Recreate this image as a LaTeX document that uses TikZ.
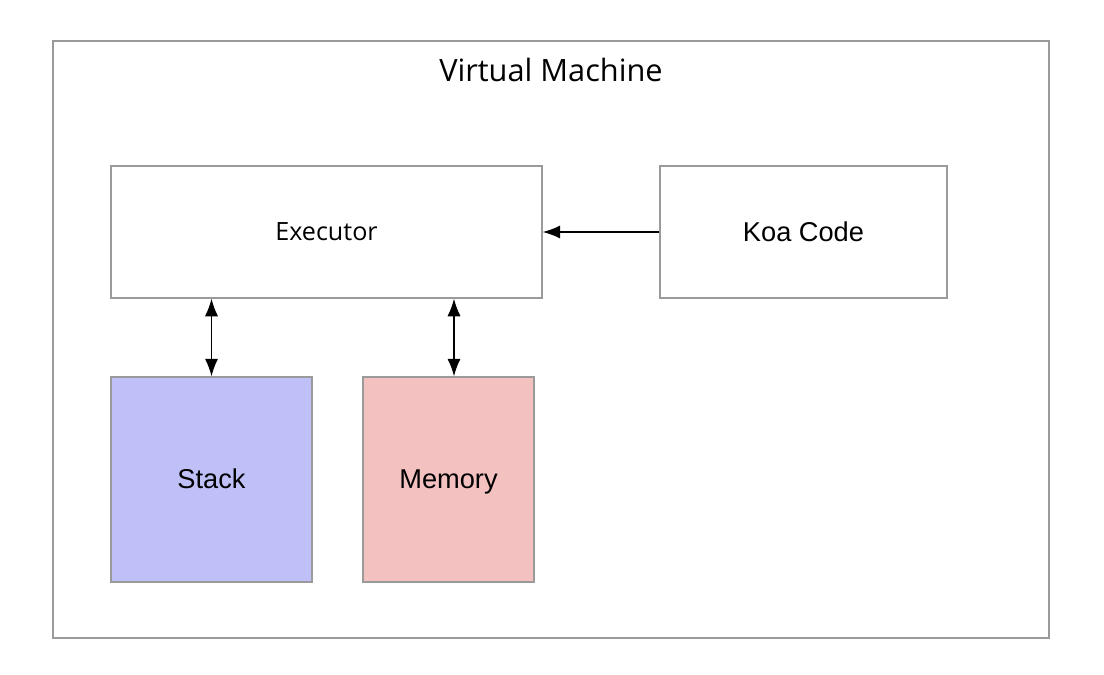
\documentclass[tikz,border=0pt]{standalone}
\usepackage{fontspec}
\setmainfont{Liberation Sans}
\newfontfamily\titlefont{Open Sans}
\usepackage{xcolor}
\usetikzlibrary{arrows.meta}

\definecolor{boxgray}{HTML}{9A9A9A}
\definecolor{stackblue}{HTML}{BFC0F8}
\definecolor{memred}{HTML}{F4C1C1}

\begin{document}
\begin{tikzpicture}[
    x=0.02cm, y=0.02cm,
    block/.style={rectangle, draw=boxgray, line width=0.8pt, inner sep=0pt},
    label/.style={font=\fontsize{15.5}{18}\selectfont, text height=10.5pt, text depth=0pt},
    arrow/.style={-{Latex[length=10pt,width=7.5pt]}, line width=0.8pt},
    biarrow/.style={{Latex[length=10pt,width=7.5pt]}-{Latex[length=10pt,width=7.5pt]}, line width=0.8pt}
]
\useasboundingbox (0,0) rectangle (1104,674);

% Outer frame
\node[block, minimum width=19.92cm, minimum height=11.94cm] (vm) at (551,334.5) {};
\node[font=\titlefont\fontsize{17.5}{20}\selectfont] (title) at (551,604) {Virtual Machine};

% Blocks
\node[block, minimum width=8.62cm, minimum height=2.64cm,
      font=\titlefont\fontsize{14.3}{17}\selectfont] (executor) at (326.5,442) {Executor};
\node[block, label, minimum width=5.74cm, minimum height=2.64cm] (koa) at (803.5,442) {Koa Code};
\node[block, label, fill=stackblue, minimum width=4.02cm, minimum height=4.1cm] (stack) at (211.5,194.5) {Stack};
\node[block, label, fill=memred, minimum width=3.42cm, minimum height=4.1cm] (memory) at (448.5,194.5) {Memory};

% Connections
\draw[arrow] (koa.west) -- (executor.east);
\draw[biarrow] (executor.south -| stack.north) -- (stack.north);
\draw[biarrow] (executor.south -| 454,0) -- (memory.north -| 454,0);

\end{tikzpicture}
\end{document}
